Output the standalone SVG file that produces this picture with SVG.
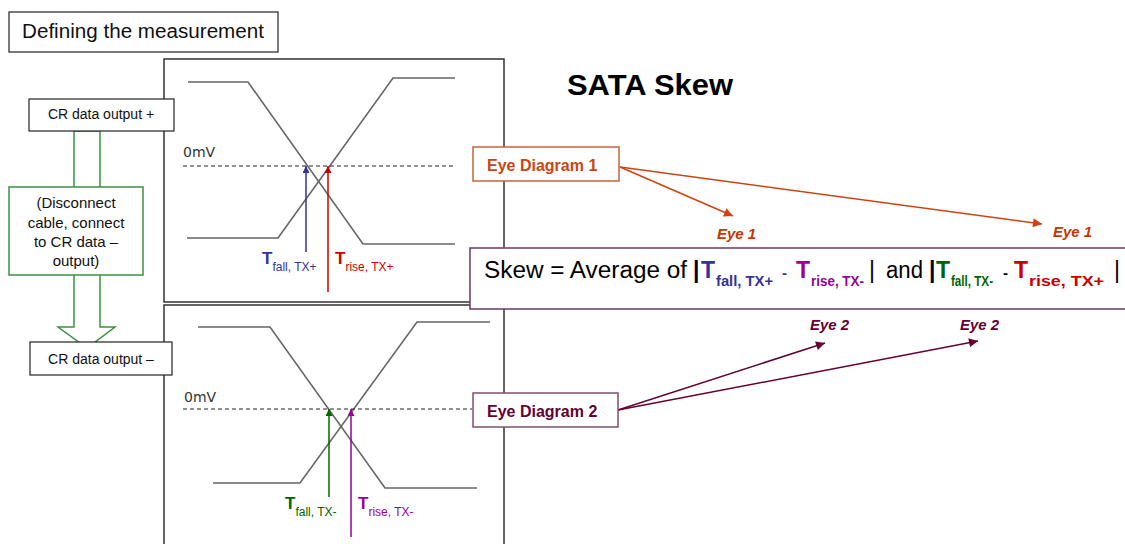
<svg xmlns="http://www.w3.org/2000/svg" width="1125" height="544" viewBox="0 0 1125 544">
<style>
text{font-family:"Liberation Sans",Arial,sans-serif}
.box{fill:#fff;stroke:#222;stroke-width:1.2}
.panel{fill:#fff;stroke:#333;stroke-width:1.5}
.wave{fill:none;stroke:#666;stroke-width:1.6}
.dash{stroke:#222;stroke-width:1;stroke-dasharray:4,3}
.mv{font-family:"DejaVu Sans",sans-serif;font-size:14px;fill:#333}
.tb{font-size:17px;font-weight:bold}
.ts{font-size:12px}
.cr{font-size:14px;fill:#111}
.e1{fill:#cc4411;font-weight:bold}
.e2{fill:#660033;font-weight:bold}
.eye{font-size:15px;font-weight:bold;font-style:italic}
.sk{font-size:23px;fill:#000}
.skT{font-size:23px;font-weight:bold}
.sks{font-size:15px;font-weight:bold}
</style>
<defs>
<marker id="mB" viewBox="0 0 10 10" refX="10" refY="5" markerUnits="userSpaceOnUse" markerWidth="9" markerHeight="7" orient="auto"><path d="M0,0L10,5L0,10z" fill="#333399"/></marker>
<marker id="mR" viewBox="0 0 10 10" refX="10" refY="5" markerUnits="userSpaceOnUse" markerWidth="9" markerHeight="7" orient="auto"><path d="M0,0L10,5L0,10z" fill="#cc0000"/></marker>
<marker id="mG" viewBox="0 0 10 10" refX="10" refY="5" markerUnits="userSpaceOnUse" markerWidth="9" markerHeight="7" orient="auto"><path d="M0,0L10,5L0,10z" fill="#006600"/></marker>
<marker id="mP" viewBox="0 0 10 10" refX="10" refY="5" markerUnits="userSpaceOnUse" markerWidth="9" markerHeight="7" orient="auto"><path d="M0,0L10,5L0,10z" fill="#990099"/></marker>
<marker id="mO" viewBox="0 0 10 10" refX="10" refY="5" markerUnits="userSpaceOnUse" markerWidth="11" markerHeight="9" orient="auto"><path d="M0,0L10,5L0,10z" fill="#cc4411"/></marker>
<marker id="mM" viewBox="0 0 10 10" refX="10" refY="5" markerUnits="userSpaceOnUse" markerWidth="11" markerHeight="9" orient="auto"><path d="M0,0L10,5L0,10z" fill="#660033"/></marker>
</defs>
<rect width="1125" height="544" fill="#fff"/>

<g id="heading">
<rect x="9" y="12" width="269" height="40" class="box"/>
<text x="22" y="38" font-size="20" fill="#111" textLength="242" lengthAdjust="spacingAndGlyphs">Defining the measurement</text>
</g>

<g id="title">
<text x="567" y="95" font-size="30" font-weight="bold" fill="#000" textLength="166" lengthAdjust="spacingAndGlyphs">SATA Skew</text>
</g>

<g id="panel-top">
<rect x="164" y="59" width="340" height="243" class="panel"/>
<polyline class="wave" points="188,82 248,82 363,244 455,244"/>
<polyline class="wave" points="187,238 278,238 393,78 455,78"/>
<line class="dash" x1="183" y1="166" x2="453" y2="166"/>
<text class="mv" x="183" y="157">0mV</text>
<line x1="306" y1="252" x2="306" y2="166" stroke="#333399" stroke-width="1.5" marker-end="url(#mB)"/>
<line x1="328" y1="292" x2="328" y2="166" stroke="#cc0000" stroke-width="1.5" marker-end="url(#mR)"/>
<text x="262" y="264" fill="#333399"><tspan class="tb">T</tspan><tspan class="ts" dy="7">fall, TX+</tspan></text>
<text x="335" y="264" fill="#cc0000"><tspan class="tb">T</tspan><tspan class="ts" dy="7">rise, TX+</tspan></text>
</g>

<g id="panel-bottom">
<rect x="164" y="305" width="340" height="260" class="panel"/>
<polyline class="wave" points="198,327 270,327 385,488 477,488"/>
<polyline class="wave" points="213,483 300,483 417,322 490,322"/>
<line class="dash" x1="183" y1="409" x2="472" y2="409"/>
<text class="mv" x="184" y="402">0mV</text>
<line x1="329" y1="497" x2="329" y2="409" stroke="#006600" stroke-width="1.5" marker-end="url(#mG)"/>
<line x1="351" y1="537" x2="351" y2="409" stroke="#990099" stroke-width="1.5" marker-end="url(#mP)"/>
<text x="285" y="509" fill="#006600"><tspan class="tb">T</tspan><tspan class="ts" dy="7">fall, TX-</tspan></text>
<text x="358" y="509" fill="#990099"><tspan class="tb">T</tspan><tspan class="ts" dy="7">rise, TX-</tspan></text>
</g>

<g id="connectors">
<polygon points="74,131 100,131 100,327 115,327 87,348 58,327 74,327" fill="#fff" stroke="#3d9140" stroke-width="1.5"/>
<line x1="620" y1="167" x2="733" y2="216" stroke="#cc4411" stroke-width="1.5" marker-end="url(#mO)"/>
<line x1="620" y1="167" x2="1042" y2="224" stroke="#cc4411" stroke-width="1.5" marker-end="url(#mO)"/>
<line x1="618" y1="410" x2="825" y2="343" stroke="#660033" stroke-width="1.5" marker-end="url(#mM)"/>
<line x1="618" y1="410" x2="978" y2="341" stroke="#660033" stroke-width="1.5" marker-end="url(#mM)"/>
</g>

<g id="cr-plus">
<rect x="29" y="99" width="145" height="32" class="box"/>
<text class="cr" x="101" y="119" text-anchor="middle">CR data output +</text>
</g>

<g id="disconnect">
<rect x="9" y="187" width="134" height="88" fill="#fff" stroke="#3d9140" stroke-width="1.5"/>
<text font-size="15" fill="#111" text-anchor="middle"><tspan x="76" y="208">(Disconnect</tspan><tspan x="76" y="228">cable, connect</tspan><tspan x="76" y="247">to CR data –</tspan><tspan x="76" y="266">output)</tspan></text>
</g>

<g id="cr-minus">
<rect x="30" y="342" width="142" height="33" class="box"/>
<text class="cr" x="101" y="364" text-anchor="middle">CR data output –</text>
</g>

<g id="eye-diagram-1">
<rect x="473" y="147" width="146" height="34" fill="#fff" stroke="#c8643c" stroke-width="1.5"/>
<text class="e1" x="487" y="171" font-size="16">Eye Diagram 1</text>
</g>

<g id="eye1-labels">
<text class="eye" x="717" y="239" fill="#cc3300">Eye 1</text>
<text class="eye" x="1053" y="237" fill="#cc3300">Eye 1</text>
</g>

<g id="skew-formula">
<rect x="470" y="248" width="670" height="61" fill="#fff" stroke="#6b3a5e" stroke-width="1.5"/>
<text class="sk" x="484" y="278" textLength="203" lengthAdjust="spacingAndGlyphs">Skew = Average of</text>
<text class="skT" x="693" y="278" fill="#000">|</text>
<text y="278" fill="#333399"><tspan class="skT" x="701">T</tspan><tspan class="sks" x="716" dy="8" textLength="57" lengthAdjust="spacingAndGlyphs">fall, TX+</tspan></text>
<text class="sks" x="782" y="278" fill="#333399">-</text>
<text y="278" fill="#990099"><tspan class="skT" x="796">T</tspan><tspan class="sks" x="811" dy="8" textLength="53" lengthAdjust="spacingAndGlyphs">rise, TX-</tspan></text>
<text class="sk" x="869" y="278">|</text>
<text class="sk" x="886" y="278" textLength="37" lengthAdjust="spacingAndGlyphs">and</text>
<text class="skT" x="929" y="278" fill="#000">|</text>
<text y="278" fill="#006600"><tspan class="skT" x="936">T</tspan><tspan class="sks" x="951" dy="8" textLength="42" lengthAdjust="spacingAndGlyphs">fall, TX-</tspan></text>
<text class="sks" x="1003" y="278" fill="#000">-</text>
<text y="278" fill="#cc0000"><tspan class="skT" x="1014">T</tspan><tspan class="sks" x="1029" dy="8" textLength="75" lengthAdjust="spacingAndGlyphs">rise, TX+</tspan></text>
<text class="sk" x="1114" y="278">|</text>
</g>

<g id="eye-diagram-2">
<rect x="473" y="393" width="145" height="34" fill="#fff" stroke="#80506e" stroke-width="1.5"/>
<text class="e2" x="487" y="417" font-size="16">Eye Diagram 2</text>
</g>

<g id="eye2-labels">
<text class="eye" x="810" y="330" fill="#660033">Eye 2</text>
<text class="eye" x="960" y="330" fill="#660033">Eye 2</text>
</g>
</svg>
